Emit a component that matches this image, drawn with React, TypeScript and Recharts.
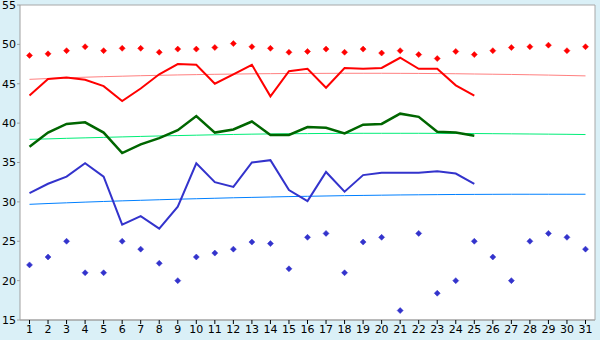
import { LineChart, Line, XAxis, YAxis, CartesianGrid } from "recharts";

const days = Array.from({ length: 31 }, (_, i) => String(i + 1));

const redSeries = [
  43.5, 45.6, 45.8, 45.5, 44.7, 42.8, 44.4, 46.2, 47.5, 47.4, 45.0, 46.2, 47.4,
  43.4, 46.6, 46.9, 44.5, 47.0, 46.9, 47.0, 48.3, 46.9, 46.9, 44.8, 43.5,
];
const greenSeries = [
  37.0, 38.8, 39.9, 40.1, 38.8, 36.2, 37.3, 38.1, 39.1, 40.9, 38.8, 39.2, 40.2,
  38.5, 38.5, 39.5, 39.4, 38.7, 39.8, 39.9, 41.2, 40.8, 38.9, 38.8, 38.4,
];
const blueSeries = [
  31.1, 32.3, 33.2, 34.9, 33.2, 27.1, 28.2, 26.6, 29.4, 34.9, 32.5, 31.9, 35.0,
  35.3, 31.5, 30.1, 33.8, 31.3, 33.4, 33.7, 33.7, 33.7, 33.9, 33.6, 32.3,
];

const redPoints = [
  48.6, 48.8, 49.2, 49.7, 49.2, 49.5, 49.5, 49.0, 49.4, 49.4, 49.6, 50.1, 49.7,
  49.5, 49.0, 49.1, 49.4, 49.0, 49.4, 48.9, 49.2, 48.7, 48.2, 49.1, 48.7, 49.2,
  49.6, 49.7, 49.9, 49.2, 49.7,
];
const bluePoints = [
  22.0, 23.0, 25.0, 21.0, 21.0, 25.0, 24.0, 22.2, 20.0, 23.0, 23.5, 24.0, 24.9,
  24.7, 21.5, 25.5, 26.0, 21.0, 24.9, 25.5, 16.2, 26.0, 18.4, 20.0, 25.0, 23.0,
  20.0, 25.0, 26.0, 25.5, 24.0,
];

const redTrend = [
  45.56, 45.66, 45.75, 45.83, 45.9, 45.96, 46.02, 46.07, 46.12, 46.16, 46.2,
  46.23, 46.26, 46.28, 46.3, 46.31, 46.32, 46.33, 46.33, 46.33, 46.32, 46.31,
  46.29, 46.27, 46.24, 46.21, 46.18, 46.14, 46.1, 46.05, 46.0,
];
const greenTrend = [
  37.94, 38.0, 38.07, 38.13, 38.19, 38.25, 38.31, 38.37, 38.42, 38.47, 38.52,
  38.56, 38.6, 38.63, 38.65, 38.67, 38.69, 38.7, 38.71, 38.71, 38.71, 38.71,
  38.7, 38.69, 38.68, 38.66, 38.64, 38.62, 38.6, 38.58, 38.55,
];
const blueTrend = [
  29.69, 29.79, 29.88, 29.97, 30.05, 30.13, 30.2, 30.27, 30.34, 30.4, 30.46,
  30.52, 30.57, 30.62, 30.67, 30.71, 30.75, 30.79, 30.82, 30.85, 30.88, 30.9,
  30.92, 30.94, 30.95, 30.96, 30.97, 30.97, 30.97, 30.97, 30.97,
];

const yTicks = [15, 20, 25, 30, 35, 40, 45, 50, 55];

const data = days.map((day, i) => ({
  day,
  red: redSeries[i] ?? null,
  green: greenSeries[i] ?? null,
  blue: blueSeries[i] ?? null,
  redPt: redPoints[i],
  bluePt: bluePoints[i],
  redTrend: redTrend[i],
  greenTrend: greenTrend[i],
  blueTrend: blueTrend[i],
}));

// small diamond marker, drawn at the point the library gives us
const diamond = (color: string) => (props: any) => {
  const { cx, cy, index } = props;
  if (cx == null || cy == null) return <g key={index} />;
  const r = 3;
  return (
    <polygon
      key={index}
      points={`${cx},${cy - r} ${cx + r},${cy} ${cx},${cy + r} ${cx - r},${cy}`}
      fill={color}
      stroke={color}
      strokeWidth={0.5}
    />
  );
};

const tickStyle = { fill: "#000", fontSize: 11, fontFamily: "DejaVu Sans" };

const App = () => {
  return (
    <div
      style={{
        position: "absolute",
        left: 0,
        top: 0,
        width: 600,
        height: 340,
        background: "#daf0f7",
      }}
    >
      <LineChart
        width={600}
        height={340}
        data={data}
        margin={{ top: 5, right: 0, left: 0, bottom: 0 }}
      >
        <CartesianGrid vertical={false} stroke="#a8a8a8" fill="#ffffff" />
        <XAxis
          dataKey="day"
          height={20}
          padding={{ left: 9.5, right: 9.5 }}
          interval={0}
          tick={tickStyle}
          tickSize={4}
          tickMargin={1}
          stroke="#a0a0a0"
          tickLine={{ stroke: "#000" }}
        />
        <YAxis
          yAxisId="left"
          width={20}
          domain={[15, 55]}
          ticks={yTicks}
          interval={0}
          tick={tickStyle}
          tickSize={3}
          tickMargin={1}
          stroke="#a0a0a0"
          tickLine={{ stroke: "#a0a0a0" }}
        />
        <YAxis
          yAxisId="right"
          orientation="right"
          width={5}
          domain={[15, 55]}
          tick={false}
          tickLine={false}
          stroke="#a8a8a8"
        />
        <Line yAxisId="left" dataKey="redTrend" stroke="#ff8080" strokeWidth={1} dot={false} isAnimationActive={false} type="linear" />
        <Line yAxisId="left" dataKey="greenTrend" stroke="#00ee77" strokeWidth={1} dot={false} isAnimationActive={false} type="linear" />
        <Line yAxisId="left" dataKey="blueTrend" stroke="#0080ff" strokeWidth={1} dot={false} isAnimationActive={false} type="linear" />
        <Line yAxisId="left" dataKey="red" stroke="#ff0000" strokeWidth={2} dot={false} isAnimationActive={false} type="linear" />
        <Line yAxisId="left" dataKey="green" stroke="#006600" strokeWidth={2.5} dot={false} isAnimationActive={false} type="linear" />
        <Line yAxisId="left" dataKey="blue" stroke="#3333cc" strokeWidth={2} dot={false} isAnimationActive={false} type="linear" />
        <Line yAxisId="left" dataKey="redPt" stroke="none" dot={diamond("#ff0000")} activeDot={false} isAnimationActive={false} />
        <Line yAxisId="left" dataKey="bluePt" stroke="none" dot={diamond("#3333cc")} activeDot={false} isAnimationActive={false} />
      </LineChart>
    </div>
  );
};

export default App;
